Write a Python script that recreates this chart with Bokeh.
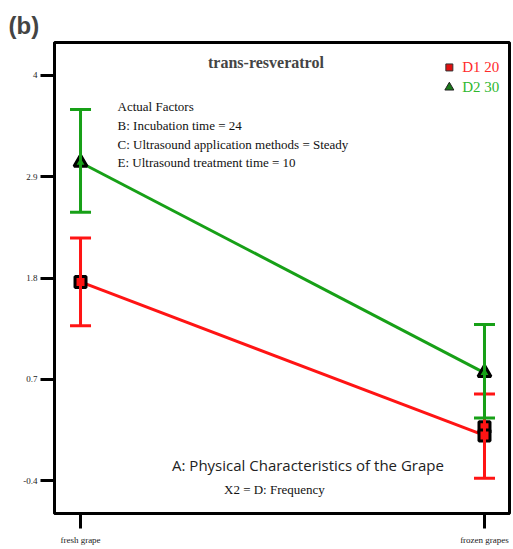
from bokeh.plotting import figure
from bokeh.models import ColumnDataSource, Whisker, TeeHead, FixedTicker, Label
from bokeh.embed import file_html
from bokeh.resources import INLINE

# Interaction plot: trans-resveratrol vs physical state of the grape
categories = ["fresh grape", "frozen grapes"]
y_ticks = [-0.4, 0.7, 1.8, 2.9, 4.0]

d1_mean = [1.757, 0.09]
d1_lower = [1.28, -0.375]
d1_upper = [2.235, 0.54]

d2_mean = [3.055, 0.77]
d2_lower = [2.515, 0.28]
d2_upper = [3.63, 1.295]

# extra design points shown at the frozen level for D1
d1_design_cat = ["frozen grapes"]
d1_design_y = [0.18]

RED = "#ff1414"
GREEN = "#17a017"
SERIF = "Liberation Serif"

xs = list(range(len(categories)))

p = figure(width=513, height=549, output_backend="svg", toolbar_location=None,
           x_range=(-0.0644, 1.0619), y_range=(-0.758, 4.358),
           min_border_left=54, min_border_right=4, min_border_top=42,
           min_border_bottom=36)
p.grid.visible = False
p.background_fill_color = "white"
p.border_fill_color = "white"
p.outline_line_color = "black"
p.outline_line_width = 3

p.title.text = "(b)"
p.title.text_font = "Liberation Sans"
p.title.text_font_size = "24px"
p.title.text_font_style = "bold"
p.title.offset = -46
p.title.standoff = 7

for ax in (p.xaxis[0], p.yaxis[0]):
    ax.axis_line_width = 3
    ax.axis_line_color = "black"
    ax.major_tick_line_width = 3
    ax.major_tick_in = 0
    ax.minor_tick_line_color = None
    ax.major_label_text_font = SERIF
    ax.major_label_text_font_size = "9px"
    ax.major_label_text_color = "#222222"

p.yaxis.ticker = FixedTicker(ticks=y_ticks)
p.yaxis.major_tick_out = 14
p.yaxis.major_label_standoff = 3
p.yaxis.major_label_overrides = {t: f"{t:g}" for t in y_ticks}

p.xaxis.ticker = FixedTicker(ticks=xs)
p.xaxis.major_tick_out = 15
p.xaxis.major_label_standoff = 6
p.xaxis.major_label_overrides = {i: c for i, c in enumerate(categories)}

src1 = ColumnDataSource(dict(x=xs, y=d1_mean, lo=d1_lower, hi=d1_upper))
src2 = ColumnDataSource(dict(x=xs, y=d2_mean, lo=d2_lower, hi=d2_upper))

# lines
p.line("x", "y", source=src1, line_color=RED, line_width=3)
p.line("x", "y", source=src2, line_color=GREEN, line_width=3)

# error bars (red first so green sits on top)
for src, col in ((src1, RED), (src2, GREEN)):
    w = Whisker(base="x", lower="lo", upper="hi", source=src,
                line_color=col, line_width=3,
                upper_head=TeeHead(size=21, line_color=col, line_width=3),
                lower_head=TeeHead(size=21, line_color=col, line_width=3),
                level="glyph")
    p.add_layout(w)

# markers
p.scatter([categories.index(c) for c in d1_design_cat], d1_design_y,
          marker="square", size=11, fill_color=RED, line_color="black", line_width=3)
p.scatter("x", "y", source=src1, marker="square", size=11,
          fill_color=RED, line_color="black", line_width=3)
p.scatter("x", "y", source=src2, marker="triangle", size=13,
          fill_color=GREEN, line_color="black", line_width=3)

# legend
p.scatter([0.913], [4.087], marker="square", size=7, fill_color="#e01010",
          line_color="#333333", line_width=1)
p.scatter([0.913], [3.87], marker="triangle", size=9, fill_color="#1a7a1a",
          line_color="#222222", line_width=1)
p.add_layout(Label(x=0.945, y=4.087, text="D1 20", text_color="#ff2a2a",
                   text_font=SERIF, text_font_size="15px", text_baseline="middle"))
p.add_layout(Label(x=0.945, y=3.87, text="D2 30", text_color="#2eb82e",
                   text_font=SERIF, text_font_size="15px", text_baseline="middle"))

# plot heading
p.add_layout(Label(x=0.459, y=4.141, text="trans-resveratrol", text_font=SERIF,
                   text_font_size="16px", text_font_style="bold",
                   text_align="center", text_baseline="middle"))

# actual factors block
factors = ["Actual Factors",
           "B: Incubation time = 24",
           "C: Ultrasound application methods = Steady",
           "E: Ultrasound treatment time = 10"]
for txt, yy in zip(factors, [3.663, 3.457, 3.251, 3.055]):
    p.add_layout(Label(x=0.0916, y=yy, text=txt, text_font=SERIF,
                       text_font_size="13px", text_baseline="middle",
                       text_color="#111111"))

p.add_layout(Label(x=0.563, y=-0.235, text="A: Physical Characteristics of the Grape",
                   text_font="Open Sans", text_font_size="15px",
                   text_align="center", text_baseline="middle", text_color="#222222"))
p.add_layout(Label(x=0.480, y=-0.496, text="X2 = D: Frequency", text_font=SERIF,
                   text_font_size="13px", text_align="center",
                   text_baseline="middle", text_color="#111111"))

open("out.html", "w").write(file_html(p, INLINE))
